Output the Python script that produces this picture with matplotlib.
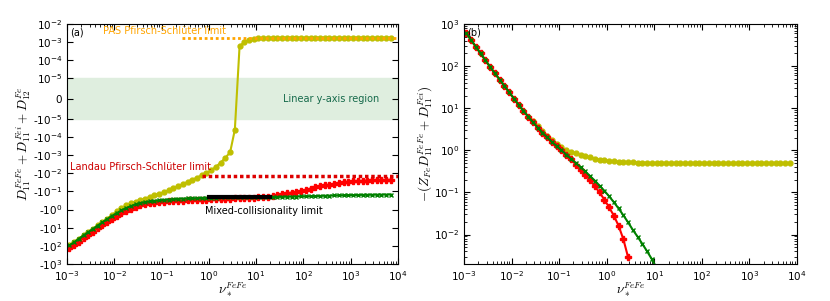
import numpy as np
import matplotlib
matplotlib.use('Agg')
import matplotlib.pyplot as plt
from matplotlib.ticker import FixedLocator, NullLocator

# ---------------------------------------------------------------
# data, 0.1-decade collisionality grid
# ---------------------------------------------------------------
nu = np.logspace(-2.95, 3.85, 69)

# panel (a): D11^FeFe + D11^Fei + D12^Fe
yellow_a = [-93, -62, -40, -25.7, -17, -11.2, -7.4, -4.9, -3.2, -2.0,
            -1.26, -0.83, -0.59, -0.45, -0.36, -0.30, -0.25, -0.204, -0.166, -0.135,
            -0.110, -0.087, -0.068, -0.052, -0.040, -0.030, -0.023, -0.0174, -0.0129, -0.0100,
            -0.0068, -0.0044, -0.0026, -0.0014, -0.0007, -0.00004, 0.00061, 0.00100, 0.00132, 0.00152,
            0.00164, 0.00171, 0.00175, 0.00177, 0.00178, 0.00178, 0.00178, 0.00178, 0.00178, 0.00178,
            0.00178, 0.00178, 0.00178, 0.00178, 0.00178, 0.00178, 0.00178, 0.00178, 0.00178, 0.00178,
            0.00178, 0.00178, 0.00178, 0.00178, 0.00178, 0.00178, 0.00178, 0.00178, 0.00178]
red_a = [-132, -89, -59, -38, -25, -16.6, -11.0, -7.2, -4.8, -3.2,
         -2.24, -1.58, -1.17, -0.89, -0.71, -0.59, -0.50, -0.45, -0.41, -0.38,
         -0.36, -0.35, -0.34, -0.33, -0.32, -0.31, -0.30, -0.29, -0.285, -0.28,
         -0.27, -0.265, -0.26, -0.255, -0.25, -0.245, -0.24, -0.235, -0.23, -0.225,
         -0.215, -0.205, -0.195, -0.18, -0.16, -0.145, -0.13, -0.117, -0.105, -0.095,
         -0.082, -0.070, -0.058, -0.051, -0.047, -0.044, -0.041, -0.036, -0.032, -0.029,
         -0.028, -0.027, -0.026, -0.0255, -0.025, -0.0245, -0.024, -0.0235, -0.023]
green_a = [-95.5, -63.1, -40.7, -26.3, -17.4, -11.5, -7.59, -5.01, -3.31, -2.24,
           -1.58, -1.12, -0.83, -0.65, -0.52, -0.44, -0.39, -0.355, -0.33, -0.31,
           -0.295, -0.28, -0.27, -0.257, -0.25, -0.245, -0.24, -0.234, -0.229, -0.224,
           -0.22, -0.218, -0.216, -0.215, -0.214, -0.213, -0.212, -0.211, -0.21, -0.21,
           -0.209, -0.207, -0.205, -0.203, -0.201, -0.199, -0.197, -0.195, -0.192, -0.189,
           -0.186, -0.183, -0.180, -0.177, -0.174, -0.171, -0.168, -0.165, -0.163, -0.161,
           -0.159, -0.157, -0.155, -0.154, -0.153, -0.152, -0.151, -0.150, -0.149]

# limits in panel (a)
pas_nu = [0.27, 1e4]
pas_val = [1.7e-3, 1.7e-3]
landau_nu = [0.72, 1e4]
landau_val = [-0.0145, -0.0145]
mixed_nu = [1.0, 20.0]
mixed_val = [-0.21, -0.21]

# panel (b): -(Z_Fe D11^FeFe + D11^Fei)
yellow_b = [603, 417, 288, 200, 138, 95.5, 67.6, 47.9, 33.9, 24.0,
            17.0, 12.0, 8.71, 6.31, 4.9, 3.72, 2.88, 2.24, 1.74, 1.38,
            1.17, 1.02, 0.93, 0.85, 0.78, 0.72, 0.68, 0.63, 0.60, 0.575,
            0.56, 0.55, 0.537, 0.53, 0.525, 0.52, 0.513, 0.51, 0.505, 0.50,
            0.50, 0.50, 0.50, 0.50, 0.50, 0.50, 0.50, 0.50, 0.50, 0.50,
            0.50, 0.50, 0.50, 0.50, 0.50, 0.50, 0.50, 0.50, 0.50, 0.50,
            0.50, 0.50, 0.50, 0.50, 0.50, 0.50, 0.50, 0.50, 0.50]
red_b = [603, 417, 288, 200, 138, 95.5, 67.6, 47.9, 33.9, 24.0,
         17.0, 12.0, 8.71, 6.31, 4.68, 3.47, 2.63, 2.04, 1.58, 1.26,
         1.00, 0.794, 0.631, 0.45, 0.347, 0.263, 0.195, 0.141, 0.100, 0.068,
         0.0447, 0.0282, 0.0162, 0.0078, 0.0029]
green_b = [603, 417, 288, 200, 138, 95.5, 67.6, 47.9, 33.9, 24.0,
           17.0, 12.0, 8.71, 6.31, 4.68, 3.47, 2.63, 2.04, 1.58, 1.26,
           1.00, 0.794, 0.631, 0.501, 0.398, 0.316, 0.245, 0.191, 0.145, 0.110,
           0.0813, 0.0589, 0.0417, 0.0288, 0.0195, 0.0129, 0.0089, 0.0060, 0.0040, 0.0026,
           0.0016, 0.0010]

ytick_vals_a = [-1e3, -1e2, -1e1, -1e0, -1e-1, -1e-2, -1e-3, -1e-4, -1e-5, 0,
                1e-5, 1e-4, 1e-3, 1e-2]
ytick_labels_a = ['-$\\mathdefault{10^{3}}$', '-$\\mathdefault{10^{2}}$', '-$\\mathdefault{10^{1}}$',
                  '-$\\mathdefault{10^{0}}$', '-$\\mathdefault{10^{-1}}$', '-$\\mathdefault{10^{-2}}$',
                  '-$\\mathdefault{10^{-3}}$', '-$\\mathdefault{10^{-4}}$', '-$\\mathdefault{10^{-5}}$',
                  '0', '$\\mathdefault{10^{-5}}$', '$\\mathdefault{10^{-4}}$',
                  '$\\mathdefault{10^{-3}}$', '$\\mathdefault{10^{-2}}$']

YEL = (0.75, 0.75, 0.0)
GRN = (0.0, 0.5, 0.0)

plt.rcParams['mathtext.fontset'] = 'cm'
plt.rcParams['axes.unicode_minus'] = False
plt.rcParams['font.size'] = 7
plt.rcParams['xtick.direction'] = 'in'
plt.rcParams['ytick.direction'] = 'in'
plt.rcParams['xtick.top'] = True
plt.rcParams['ytick.right'] = True
plt.rcParams['xtick.major.size'] = 4
plt.rcParams['ytick.major.size'] = 4
plt.rcParams['xtick.minor.size'] = 2
plt.rcParams['ytick.minor.size'] = 2


def main():
    fig = plt.figure(figsize=(8.3, 3.01), dpi=100)
    ax1 = fig.add_axes([0.0807, 0.1229, 0.3988, 0.7973])
    ax2 = fig.add_axes([0.5590, 0.1229, 0.4012, 0.7973])

    # ---------------- (a) ----------------
    ax = ax1
    ax.set_xscale('log')
    ax.set_yscale('symlog', linthresh=1e-5, linscale=1)
    ax.axhspan(-1e-5, 1e-5, color='#dfeedf', zorder=0)
    ax.plot(nu, yellow_a, '-o', color=YEL, mec=YEL, lw=1.5, ms=3.5)
    ax.plot(nu, red_a, '-P', color='r', mec='r', lw=1.5, ms=4.5)
    ax.plot(nu, green_a, '-x', color=GRN, mec=GRN, lw=1.5, ms=3.5, mew=1)
    ax.plot(pas_nu, pas_val, color='orange', lw=2, dashes=(1, 1))
    ax.plot(landau_nu, landau_val, color='#dd0000', lw=2.5, dashes=(1, 0.8))
    ax.plot(mixed_nu, mixed_val, '-', color='k', lw=3)
    ax.set_xlim(1e-3, 1e4)
    ax.set_ylim(-1e3, 1e-2)
    ax.yaxis.set_major_locator(FixedLocator(ytick_vals_a))
    ax.set_yticklabels(ytick_labels_a)
    ax.yaxis.set_minor_locator(NullLocator())
    ax.set_xlabel(r'$\nu_*^{FeFe}$', fontsize=9.5, labelpad=-2)
    ax.set_ylabel(r'$D_{11}^{FeFe}+D_{11}^{Fei}+D_{12}^{Fe}$', fontsize=9.5, labelpad=-0.5)
    ax.text(0.01, 0.965, '(a)', transform=ax.transAxes, va='center', ha='left')
    ax.text(0.109, 0.97, 'PAS Pfirsch-Schlüter limit', color='orange',
            transform=ax.transAxes, va='center', ha='left')
    ax.text(0.653, 0.6875, 'Linear y-axis region', color='#166a4b',
            transform=ax.transAxes, va='center', ha='left')
    ax.text(0.01, 0.404, 'Landau Pfirsch-Schlüter limit', color='#cc0000',
            transform=ax.transAxes, va='center', ha='left')
    ax.text(0.417, 0.221, 'Mixed-collisionality limit', color='k',
            transform=ax.transAxes, va='center', ha='left')

    # ---------------- (b) ----------------
    ax = ax2
    ax.set_xscale('log')
    ax.set_yscale('log')
    ax.plot(nu, yellow_b, '-o', color=YEL, mec=YEL, lw=1.5, ms=3.5)
    ax.plot(nu[:len(red_b)], red_b, '-P', color='r', mec='r', lw=1.5, ms=4.5)
    ax.plot(nu[:len(green_b)], green_b, '-x', color=GRN, mec=GRN, lw=1.5, ms=3.5, mew=1)
    ax.set_xlim(1e-3, 1e4)
    ax.set_ylim(2e-3, 1e3)
    ax.set_xlabel(r'$\nu_*^{FeFe}$', fontsize=9.5, labelpad=-2)
    ax.set_ylabel(r'$-(Z_{Fe}D_{11}^{FeFe}+D_{11}^{Fei})$', fontsize=9.5, labelpad=-1)
    ax.text(0.01, 0.965, '(b)', transform=ax.transAxes, va='center', ha='left')

    for a in (ax1, ax2):
        a.tick_params(labelsize=7.5)

    fig.savefig('out.png', dpi=100, facecolor='white')
    plt.close(fig)


if __name__ == "__main__":
    main()
